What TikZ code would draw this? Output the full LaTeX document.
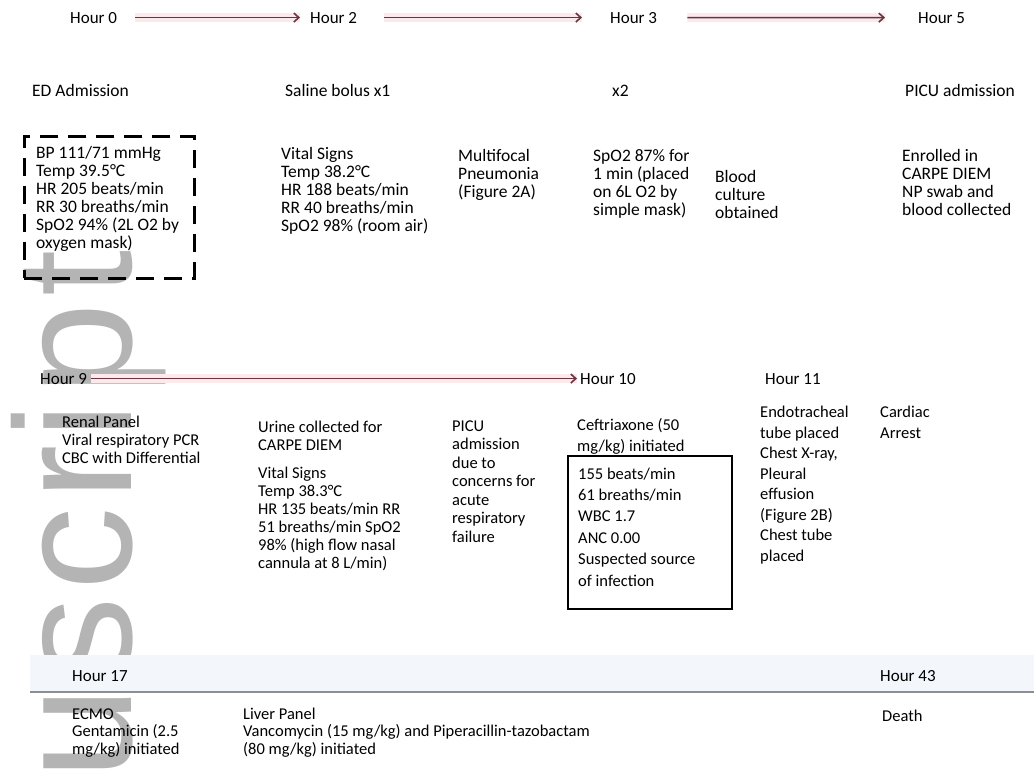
\documentclass[tikz,border=0pt]{standalone}
\usepackage{fontspec}
\setmainfont{Carlito}
\newfontfamily\markfont[LetterSpace=4]{Liberation Sans}
\usetikzlibrary{arrows.meta,positioning}
\definecolor{linkred}{HTML}{6A3541}
\definecolor{glowred}{HTML}{FCE9EB}
\definecolor{markgray}{HTML}{B4B4B4}
\definecolor{rulegray}{HTML}{8E8E8E}
\definecolor{bandblue}{HTML}{F3F7FC}

\begin{document}
\begin{tikzpicture}[x=1pt, y=-1pt,
  hourlbl/.style={anchor=base west, inner sep=0pt, font=\fontsize{17}{18}\selectfont},
  evt/.style={anchor=base west, inner sep=0pt, align=left, font=\fontsize{16.5}{18}\selectfont},
  topevt/.style={evt, font=\fontsize{17.5}{18}\selectfont},
  roomy/.style={evt, font=\fontsize{16.5}{20.5}\selectfont},
  arr/.style={-{Straight Barb[length=5pt,width=9pt]}, line width=1.6pt, linkred},
  glow/.style={line width=9pt, glowred},
  dashbox/.style={draw, line width=2.6pt, dash pattern=on 18pt off 10pt, minimum width=170pt, minimum height=142pt, anchor=north west, inner sep=0pt},
  solidbox/.style={draw, line width=2.4pt, minimum width=164pt, minimum height=153pt, anchor=north west, inner sep=0pt}
]
  \useasboundingbox (0,0) rectangle (1034,769);
  \clip (0,0) rectangle (1034,769);
  \fill[white] (0,0) rectangle (1034,769);
  \node[rotate=90, anchor=base east, inner sep=0pt, text=markgray, font=\markfont\fontsize{166}{166}\selectfont] (wmark) at (131,250) {Manuscript};

  \node[hourlbl] (hour0) at (70,23) {Hour 0};
  \node[hourlbl] (hour2) at (310,23) {Hour 2};
  \node[hourlbl] (hour3) at (610,23) {Hour 3};
  \node[hourlbl] (hour5) at (918,23) {Hour 5};
  \draw[glow, shorten <=18pt, shorten >=10pt] (hour0) -- (hour2);
  \draw[glow, shorten <=27pt, shorten >=28pt] (hour2) -- (hour3);
  \draw[glow, shorten <=30pt, shorten >=33pt] (hour3) -- (hour5);
  \draw[arr, shorten <=18pt, shorten >=10pt] (hour0) -- (hour2);
  \draw[arr, shorten <=27pt, shorten >=28pt] (hour2) -- (hour3);
  \draw[arr, shorten <=30pt, shorten >=33pt] (hour3) -- (hour5);

  \node[topevt] (edadm) at (32,96) {ED Admission};
  \node[topevt] (bolus1) at (285,96) {Saline bolus x1};
  \node[topevt] (bolus2) at (612,96) {x2};
  \node[topevt] (picuadm) at (905,96) {PICU admission};

  % multi-line nodes sit on their last baseline
  \node[dashbox] (triagebox) at (23,135) {};
  \node[topevt] (triage) at (36,248) {BP 111/71 mmHg\\Temp 39.5°C\\HR 205 beats/min\\RR 30 breaths/min\\SpO2 94\% (2L O2 by\\oxygen mask)};
  \node[topevt] (vitals2) at (281,231) {Vital Signs\\Temp 38.2°C\\HR 188 beats/min\\RR 40 breaths/min\\SpO2 98\% (room air)};
  \node[topevt] (multifocal) at (458,197) {Multifocal\\Pneumonia\\(Figure 2A)};
  \node[topevt] (desat) at (593,215) {SpO2 87\% for\\1 min (placed\\on 6L O2 by\\simple mask)};
  \node[topevt] (bloodcx) at (715,218) {Blood\\culture\\obtained};
  \node[topevt] (enroll) at (902,215) {Enrolled in\\CARPE DIEM\\NP swab and\\blood collected};

  \node[hourlbl] (hour9) at (40,384) {Hour 9};
  \node[hourlbl] (hour10) at (580,384) {Hour 10};
  \node[hourlbl] (hour11) at (765,384) {Hour 11};
  \draw[glow, shorten <=4pt, shorten >=3pt] (hour9) -- (hour10);
  \draw[arr, shorten <=4pt, shorten >=3pt] (hour9) -- (hour10);

  \node[evt] (labs9) at (62,463) {Renal Panel\\Viral respiratory PCR\\CBC with Differential};
  \node[evt] (urine) at (258,450) {Urine collected for\\CARPE DIEM};
  \node[evt] (vitals9) at (258,568) {Vital Signs\\Temp 38.3°C\\HR 135 beats/min RR\\51 breaths/min SpO2\\98\% (high flow nasal\\cannula at 8 L/min)};
  \node[evt, font=\fontsize{16.5}{18.5}\selectfont] (picu9) at (452,542) {PICU\\admission\\due to\\concerns for\\acute\\respiratory\\failure};
  \node[roomy] (ceftx) at (577,451) {Ceftriaxone (50\\mg/kg) initiated};
  \node[solidbox] (sepsisbox) at (567,455) {};
  \node[roomy, font=\fontsize{16.5}{21.4}\selectfont] (sepsis) at (578,586) {155 beats/min\\61 breaths/min\\WBC 1.7\\ANC 0.00\\Suspected source\\of infection};
  \node[roomy] (ett) at (760,561) {Endotracheal\\tube placed\\Chest X-ray,\\Pleural\\effusion\\(Figure 2B)\\Chest tube\\placed};
  \node[roomy] (arrest) at (880,438) {Cardiac\\Arrest};

  \fill[bandblue] (30,655) rectangle (1034,691);
  \draw[rulegray, line width=2pt] (30,692) -- (1034,692);
  \node[hourlbl] (hour17) at (72,681) {Hour 17};
  \node[hourlbl] (hour43) at (880,681) {Hour 43};
  \node[evt, font=\fontsize{16.5}{17.5}\selectfont] (ecmo) at (72,754) {ECMO\\Gentamicin (2.5\\mg/kg) initiated};
  \node[evt, font=\fontsize{16.5}{17.5}\selectfont] (liver) at (243,754) {Liver Panel\\Vancomycin (15 mg/kg) and Piperacillin-tazobactam\\(80 mg/kg) initiated};
  \node[evt] (death) at (882,721) {Death};
\end{tikzpicture}
\end{document}
